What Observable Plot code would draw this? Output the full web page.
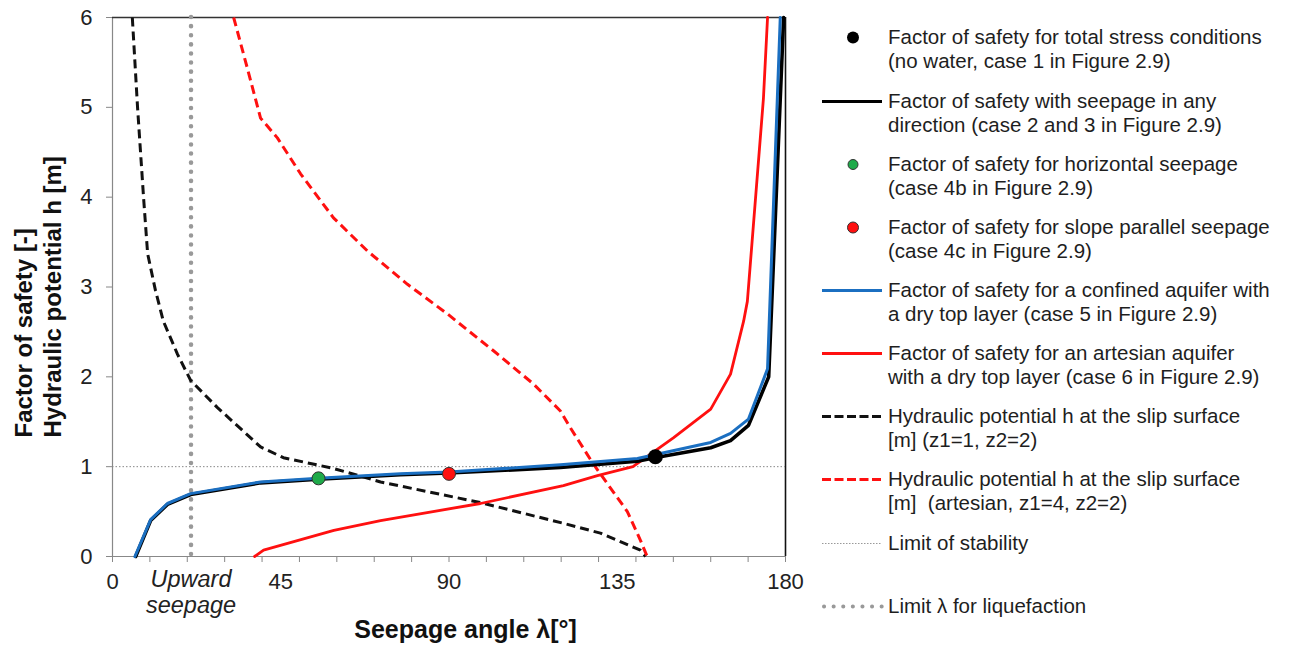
<!DOCTYPE html>
<html><head><meta charset="utf-8">
<script src="https://cdn.jsdelivr.net/npm/d3@7"></script>
<script src="https://cdn.jsdelivr.net/npm/@observablehq/plot@0.6"></script>
<style>
body{margin:0;background:#fff;}
#wrap{position:relative;width:1290px;height:648px;font-family:"Liberation Sans",Arial,sans-serif;overflow:hidden;}
#wrap svg.plot{position:absolute;left:0;top:0;}
.entry{position:absolute;left:822px;height:49px;}
.entry svg{position:absolute;left:0;top:0;}
.entry .txt{position:absolute;left:66px;top:0;font-size:20.5px;line-height:24.5px;white-space:pre;color:#1e1e1e;}
</style></head><body><div id="wrap"></div>
<script>
// ---------- data ----------
const xTickValues = [0, 10, 20, 30, 40, 50, 60, 70, 80, 90, 100, 110, 120, 130, 140, 150, 160, 170, 180];
const xTickLabels = [0, 45, 90, 135, 180];
const yTickValues = [0, 1, 2, 3, 4, 5, 6];

// Factor of safety with seepage in any direction (black solid)
const lambdaAny = [6.2, 10.2, 14.7, 20.9, 39.6, 55, 77, 90, 119.8, 140.4, 145, 160, 165.3, 170.1, 175.5, 179.5];
const fsAny     = [0, 0.40, 0.58, 0.69, 0.82, 0.86, 0.91, 0.93, 0.99, 1.06, 1.10, 1.21, 1.29, 1.46, 2.0, 6];
// Confined aquifer with dry top layer (blue)
const lambdaConfined = [6.0, 10.2, 14.7, 20.9, 39.6, 55, 77, 90, 119.8, 140.4, 160, 165.3, 170.1, 175.2, 178.6];
const fsConfined     = [0, 0.41, 0.59, 0.70, 0.83, 0.87, 0.92, 0.94, 1.02, 1.09, 1.27, 1.37, 1.53, 2.09, 6];
// Artesian aquifer with dry top layer (red solid)
const lambdaArtesian = [38.0, 40.4, 59.2, 71.7, 98.4, 120.6, 129.7, 139.2, 150, 160, 165.3, 168.8, 169.8, 174.1, 175.2];
const fsArtesian     = [0, 0.07, 0.29, 0.40, 0.59, 0.79, 0.90, 1.0, 1.32, 1.64, 2.03, 2.62, 2.84, 5.1, 6];
// Hydraulic potential h (z1=1, z2=2) (black dashed)
const lambdaH1 = [5.3, 6.7, 8.3, 9.4, 11.5, 13.6, 17.4, 20.9, 28, 39.6, 45.7, 59.1, 71.7, 98.4, 120.6, 130.5, 141.2, 142.6];
const hH1      = [6, 5.0, 4.0, 3.37, 2.96, 2.62, 2.25, 1.96, 1.66, 1.22, 1.1, 0.98, 0.83, 0.6, 0.37, 0.26, 0.07, 0];
// Hydraulic potential h (artesian, z1=4, z2=2) (red dashed)
const lambdaH2 = [32.4, 36.1, 39.6, 44.1, 50.3, 59.1, 68.2, 78.9, 89.6, 101.9, 112.6, 119.8, 122.5, 128.6, 137.7, 141.2, 143.0];
const hH2      = [6, 5.43, 4.88, 4.66, 4.26, 3.77, 3.4, 3.03, 2.7, 2.29, 1.92, 1.62, 1.43, 1.03, 0.5, 0.18, 0];
// single points
const lambdaTotalStress = [145.2], fsTotalStress = [1.11];
const lambdaHorizontal = [55.1], fsHorizontal = [0.87];
const lambdaSlopeParallel = [90], fsSlopeParallel = [0.92];
// limits
const limitStability = [1];
const limitLiquefaction = [21];

const xTitle = "Seepage angle λ[°]";
const yTitle = "Factor of safety [-]\nHydraulic potential h [m]";
const upwardLabel = ["Upward\nseepage"];

const legendLabels = [
  "Factor of safety for total stress conditions\n(no water, case 1 in Figure 2.9)",
  "Factor of safety with seepage in any\ndirection (case 2 and 3 in Figure 2.9)",
  "Factor of safety for horizontal seepage\n(case 4b in Figure 2.9)",
  "Factor of safety for slope parallel seepage\n(case 4c in Figure 2.9)",
  "Factor of safety for a confined aquifer with\na dry top layer (case 5 in Figure 2.9)",
  "Factor of safety for an artesian aquifer\nwith a dry top layer (case 6 in Figure 2.9)",
  "Hydraulic potential h at the slip surface\n[m] (z1=1, z2=2)",
  "Hydraulic potential h at the slip surface\n[m]  (artesian, z1=4, z2=2)",
  "Limit of stability",
  "Limit λ for liquefaction"
];

// ---------- helpers ----------
const toRows = (xs, ys) => xs.map((x, i) => ({x, y: ys[i]}));
const BLUE = "#1b6fc1", RED = "#ff1010", GREEN = "#1faa4a";

const plot = Plot.plot({
  width: 1290, height: 648,
  marginLeft: 112, marginRight: 505, marginTop: 17, marginBottom: 92,
  style: {fontFamily: "'Liberation Sans', Arial, sans-serif", background: "#fff"},
  x: {domain: [0, 180]},
  y: {domain: [0, 6]},
  marks: [
    Plot.axisX(xTickValues, {tickSize: 6, tickFormat: () => "", stroke: "#888", label: null}),
    Plot.axisX(xTickLabels, {tickSize: 0, tickPadding: 17, fontSize: 22, fill: "#222", tickFormat: d => String(d), label: null}),
    Plot.axisY(yTickValues, {tickSize: 6, tickPadding: 14, fontSize: 22, stroke: "#888", fill: "#222", tickFormat: d => String(d), label: null}),
    Plot.ruleY([0], {stroke: "#888", strokeWidth: 1.2}),
    Plot.ruleX([0], {stroke: "#888", strokeWidth: 1.2}),
    Plot.ruleY([6], {stroke: "#333", strokeWidth: 1.6}),
    Plot.ruleX([180], {stroke: "#111", strokeWidth: 1.6}),
    Plot.ruleY(limitStability, {stroke: "#888", strokeWidth: 1, strokeDasharray: "1.5,2"}),
    Plot.ruleX(limitLiquefaction, {stroke: "#999", strokeWidth: 4.5, strokeDasharray: "0.1,9", strokeLinecap: "round"}),
    Plot.line(toRows(lambdaH1, hH1), {x: "x", y: "y", stroke: "#111", strokeWidth: 3, strokeDasharray: "9,5", strokeLinecap: "butt"}),
    Plot.line(toRows(lambdaH2, hH2), {x: "x", y: "y", stroke: RED, strokeWidth: 3, strokeDasharray: "9,5", strokeLinecap: "butt"}),
    Plot.line(toRows(lambdaArtesian, fsArtesian), {x: "x", y: "y", stroke: RED, strokeWidth: 2.8}),
    Plot.line(toRows(lambdaAny, fsAny), {x: "x", y: "y", stroke: "#000", strokeWidth: 3.6}),
    Plot.line(toRows(lambdaConfined, fsConfined), {x: "x", y: "y", stroke: BLUE, strokeWidth: 3}),
    Plot.dot(toRows(lambdaHorizontal, fsHorizontal), {x: "x", y: "y", r: 6.5, fill: GREEN, stroke: "#333", strokeWidth: 1}),
    Plot.dot(toRows(lambdaSlopeParallel, fsSlopeParallel), {x: "x", y: "y", r: 6.5, fill: RED, stroke: "#333", strokeWidth: 1}),
    Plot.dot(toRows(lambdaTotalStress, fsTotalStress), {x: "x", y: "y", r: 7.5, fill: "#000"}),
    Plot.text(upwardLabel, {x: limitLiquefaction[0], frameAnchor: "bottom", text: d => d, dy: 56, lineAnchor: "bottom",
      fontSize: 23.5, fontStyle: "italic", lineHeight: 1.07, fill: "#222"}),
    Plot.text([xTitle], {frameAnchor: "bottom", text: d => d, dx: 16.5, dy: 81, lineAnchor: "bottom",
      fontSize: 25, fontWeight: "bold", fill: "#111"}),
    Plot.text([yTitle], {frameAnchor: "left", text: d => d, rotate: -90, dx: -75, dy: 150.5, textAnchor: "start",
      fontSize: 24, fontWeight: "bold", lineHeight: 1.17, fill: "#111"})
  ]
});

const wrap = document.getElementById("wrap");
wrap.appendChild(plot);

// ---------- legend ----------
const legendSymbols = [
  {type: "dot", fill: "#000", r: 6},
  {type: "line", stroke: "#000", width: 3},
  {type: "dot", fill: GREEN, r: 5, outline: "#333"},
  {type: "dot", fill: RED, r: 5.5, outline: "#333"},
  {type: "line", stroke: BLUE, width: 3},
  {type: "line", stroke: RED, width: 3},
  {type: "line", stroke: "#111", width: 3, dash: "9,3.5"},
  {type: "line", stroke: RED, width: 3, dash: "9,3.5"},
  {type: "line", stroke: "#999", width: 1, dash: "1.5,1.5"},
  {type: "line", stroke: "#999", width: 4, dash: "0.1,9.5", cap: "round"}
];
const legendCenters = [37, 101, 164, 227, 290, 353, 416, 479, 543, 606];

legendLabels.forEach((label, i) => {
  const s = legendSymbols[i];
  const entry = d3.select(wrap).append("div").attr("class", "entry")
    .style("top", (legendCenters[i] - 12.25) + "px");
  const svg = entry.append("svg").attr("width", 64).attr("height", 25);
  if (s.type === "dot") {
    svg.append("circle").attr("cx", 31).attr("cy", 12.5).attr("r", s.r)
      .attr("fill", s.fill).attr("stroke", s.outline || "none").attr("stroke-width", 1);
  } else {
    svg.append("line").attr("x1", s.cap ? 2 : 0).attr("x2", 60).attr("y1", 12.5).attr("y2", 12.5)
      .attr("stroke", s.stroke).attr("stroke-width", s.width)
      .attr("stroke-dasharray", s.dash || null).attr("stroke-linecap", s.cap || "butt");
  }
  entry.append("div").attr("class", "txt").text(label);
});
</script></body></html>
